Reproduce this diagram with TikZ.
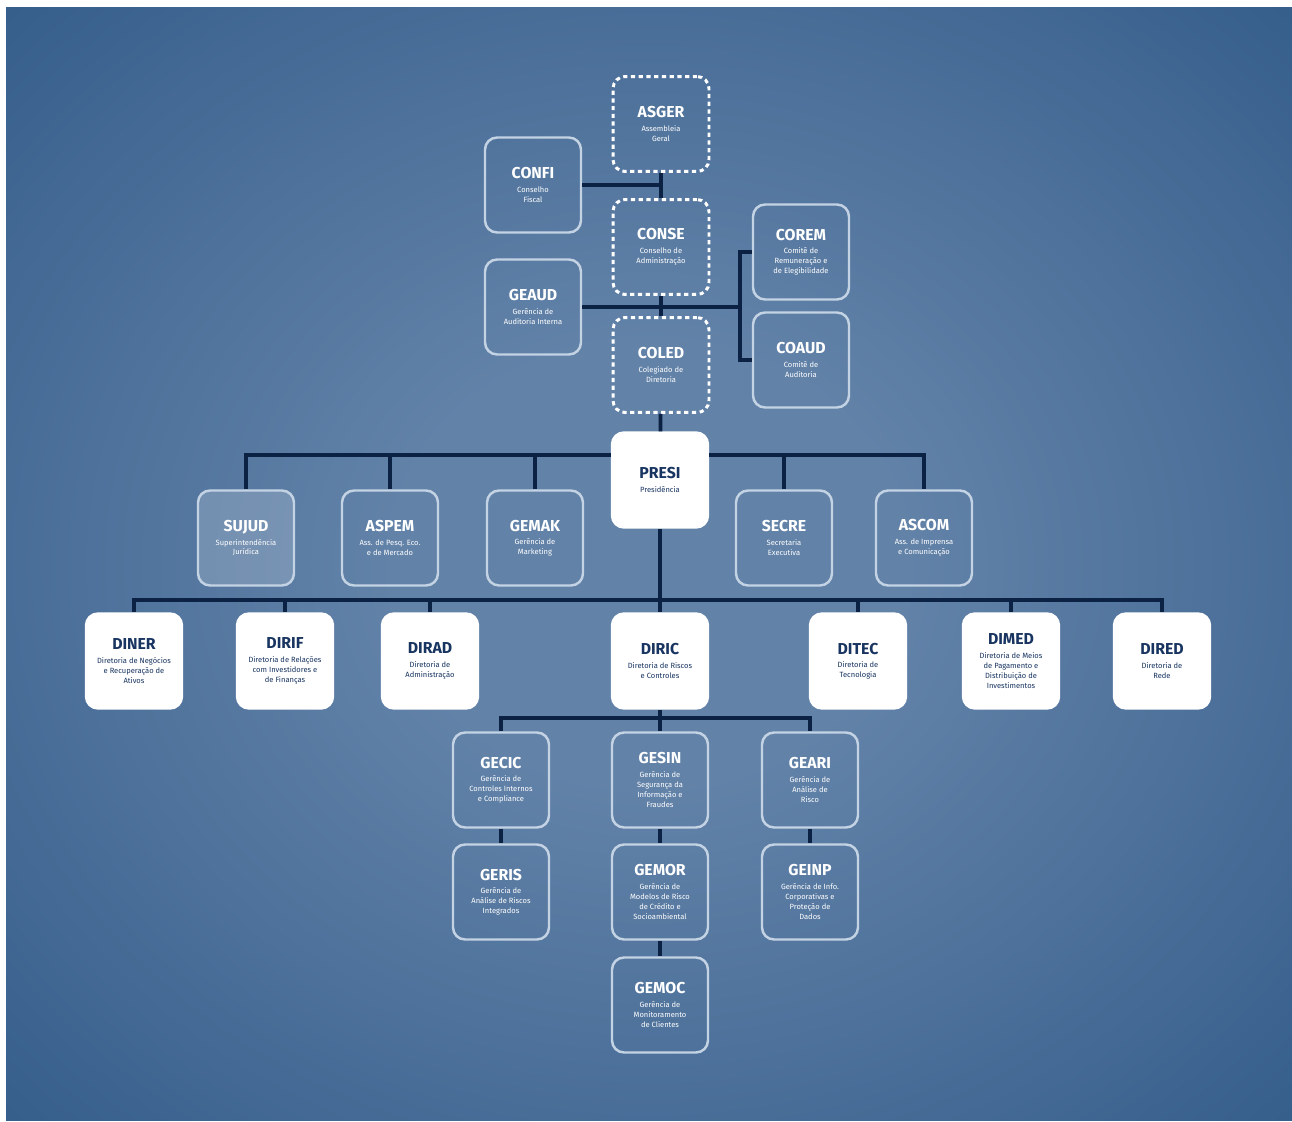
\documentclass[tikz,border=0pt]{standalone}
\usepackage{fontspec}
\setmainfont{Fira Sans}
\definecolor{fundoclaro}{RGB}{98,130,168}
\definecolor{fundoescuro}{RGB}{36,80,128}
\definecolor{fundocanto}{RGB}{28,70,118}
\definecolor{linha}{RGB}{12,34,68}
\definecolor{contorno}{RGB}{196,211,228}
\definecolor{marinho}{RGB}{24,52,96}
\pgfdeclareradialshading{fundo}{\pgfpointorigin}{color(0bp)=(fundoclaro); color(10bp)=(fundoclaro); color(46bp)=(fundoescuro); color(72bp)=(fundocanto)}
\def\sigla#1{{\fontsize{9}{9.5}\selectfont\bfseries #1}\\[2.2pt]}
\tikzset{
	unidade/.style={draw=contorno, line width=1.4pt, rounded corners=0.24cm, minimum width=1.92cm, minimum height=1.9cm, align=center, text=white, font=\fontsize{4.3}{5.6}\selectfont},
	tracejada/.style={unidade, draw=white, line width=1.7pt, dash pattern=on 2.4pt off 2pt},
	diretoria/.style={unidade, draw=white, fill=white, text=marinho},
	juridica/.style={unidade, fill=white, fill opacity=0.18, text opacity=1},
	ligacao/.style={draw=linha, line width=2.1pt},
}

\begin{document}
\begin{tikzpicture}[x=0.02cm,y=-0.02cm]
	\useasboundingbox (0,0) rectangle (1292,1122);
	\fill[white] (0,0) rectangle (1292,1122);
	\shade[shading=fundo] (6,8) rectangle (1292,1120);

	%conselhos e comites
	\node[tracejada] (asger) at (661,124) {\sigla{ASGER}Assembleia\\Geral};
	\node[unidade] (confi) at (533,185) {\sigla{CONFI}Conselho\\Fiscal};
	\node[tracejada] (conse) at (661,247) {\sigla{CONSE}Conselho de\\Administração};
	\node[unidade] (geaud) at (533,307) {\sigla{GEAUD}Gerência de\\Auditoria Interna};
	\node[tracejada] (coled) at (661,365) {\sigla{COLED}Colegiado de\\Diretoria};
	\node[unidade] (corem) at (801,252) {\sigla{COREM}Comitê de\\Remuneração e\\de Elegibilidade};
	\node[unidade] (coaud) at (801,360) {\sigla{COAUD}Comitê de\\Auditoria};

	%presidencia e assessorias
	\node[diretoria] (presi) at (660,480) {\sigla{PRESI}Presidência};
	\node[juridica] (sujud) at (246,538) {\sigla{SUJUD}Superintendência\\Jurídica};
	\node[unidade] (aspem) at (390,538) {\sigla{ASPEM}Ass. de Pesq. Eco.\\e de Mercado};
	\node[unidade] (gemak) at (535,538) {\sigla{GEMAK}Gerência de\\Marketing};
	\node[unidade] (secre) at (784,538) {\sigla{SECRE}Secretaria\\Executiva};
	\node[unidade] (ascom) at (924,538) {\sigla{ASCOM}Ass. de Imprensa\\e Comunicação};

	%diretorias
	\node[diretoria] (diner) at (134,661) {\sigla{DINER}Diretoria de Negócios\\e Recuperação de\\Ativos};
	\node[diretoria] (dirif) at (285,661) {\sigla{DIRIF}Diretoria de Relações\\com Investidores e\\de Finanças};
	\node[diretoria] (dirad) at (430,661) {\sigla{DIRAD}Diretoria de\\Administração};
	\node[diretoria] (diric) at (660,661) {\sigla{DIRIC}Diretoria de Riscos\\e Controles};
	\node[diretoria] (ditec) at (858,661) {\sigla{DITEC}Diretoria de\\Tecnologia};
	\node[diretoria] (dimed) at (1011,661) {\sigla{DIMED}Diretoria de Meios\\de Pagamento e\\Distribuição de\\Investimentos};
	\node[diretoria] (dired) at (1162,661) {\sigla{DIRED}Diretoria de\\Rede};

	%gerencias da diric
	\node[unidade] (gecic) at (501,780) {\sigla{GECIC}Gerência de\\Controles Internos\\e Compliance};
	\node[unidade] (gesin) at (660,780) {\sigla{GESIN}Gerência de\\Segurança da\\Informação e\\Fraudes};
	\node[unidade] (geari) at (810,780) {\sigla{GEARI}Gerência de\\Análise de\\Risco};
	\node[unidade] (geris) at (501,892) {\sigla{GERIS}Gerência de\\Análise de Riscos\\Integrados};
	\node[unidade] (gemor) at (660,892) {\sigla{GEMOR}Gerência de\\Modelos de Risco\\de Crédito e\\Socioambiental};
	\node[unidade] (geinp) at (810,892) {\sigla{GEINP}Gerência de Info.\\Corporativas e\\Proteção de\\Dados};
	\node[unidade] (gemoc) at (660,1005) {\sigla{GEMOC}Gerência de\\Monitoramento\\de Clientes};

	%pontos das barras
	\coordinate (chave) at (740,307);
	\coordinate (barra) at (660,455);
	\coordinate (barrb) at (660,600);
	\coordinate (barrc) at (660,718);

	%ligacoes do topo
	\draw[ligacao] (asger) -- (conse);
	\draw[ligacao] (confi.east) -- (confi.east -| asger.south);
	\draw[ligacao] (conse) -- (coled);
	\draw[ligacao] (geaud.east) -- (chave);
	\draw[ligacao] (corem.west) -| (chave);
	\draw[ligacao] (coaud.west) -| (chave);
	\draw[ligacao] (coled) -- (presi);

	%ligacoes da presidencia
	\foreach \n in {sujud,aspem,gemak}
		\draw[ligacao] (presi.west |- barra) -| (\n.north);
	\foreach \n in {secre,ascom}
		\draw[ligacao] (presi.east |- barra) -| (\n.north);
	\draw[ligacao] (presi) -- (diric);
	\foreach \n in {diner,dirif,dirad,ditec,dimed,dired}
		\draw[ligacao] (barrb) -| (\n.north);

	%ligacoes da diric
	\draw[ligacao] (diric) -- (gesin);
	\foreach \n in {gecic,geari}
		\draw[ligacao] (barrc) -| (\n.north);
	\draw[ligacao] (gecic) -- (geris);
	\draw[ligacao] (gesin) -- (gemor);
	\draw[ligacao] (gemor) -- (gemoc);
	\draw[ligacao] (geari) -- (geinp);
\end{tikzpicture}
\end{document}
